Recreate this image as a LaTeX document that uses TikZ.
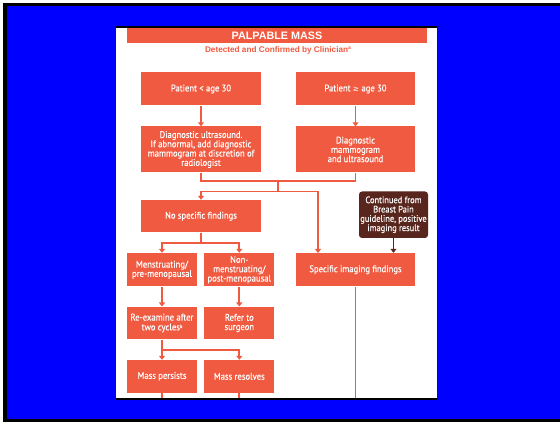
\documentclass[tikz,border=0pt]{standalone}
\usepackage{fontspec}
\usetikzlibrary{arrows.meta}
\newfontfamily\boxfont[FakeStretch=0.9,FakeBold=0.4]{PT Sans}
\newfontfamily\titlefont{Liberation Sans}
\newfontfamily\symfont{DejaVu Sans}
\definecolor{orng}{RGB}{240,90,65}
\definecolor{brwn}{RGB}{88,38,28}
\definecolor{frameblue}{RGB}{0,0,255}
\newcommand{\fnmark}[1]{{\fontsize{5}{5}\selectfont\raisebox{2.2pt}{#1}}}
\begin{document}
\begin{tikzpicture}[x=1pt,y=-1pt,
  fbox/.style={fill=orng,text=white,font={\boxfont\fontsize{9.6}{9.3}\selectfont},align=center,inner sep=0pt},
  brbox/.style={fill=brwn,text=white,font={\boxfont\fontsize{9.4}{9.3}\selectfont},align=center,inner sep=0pt,rounded corners=3pt},
  link/.style={draw=orng,line width=1.9pt},
  arr/.style={link,-{Triangle[width=6pt,length=4pt]}},
  brarr/.style={draw=brwn,line width=1.9pt,-{Triangle[width=6pt,length=4pt]}}]
\useasboundingbox (0,0) rectangle (560,422);
\fill[white] (0,0) rectangle (560,422);
\fill[black] (3,3) rectangle (562,422);
\fill[frameblue] (7,6) rectangle (562,419);
% panel
\fill[black] (116,26) rectangle (437,400);
\fill[white] (116,27.7) rectangle (437,397.5);
\begin{scope}
\clip (116,27.7) rectangle (437,397.5);
\node[fill=orng,text=white,inner sep=0pt,minimum width=300pt,minimum height=15pt,font={\titlefont\bfseries\fontsize{10.8}{12}\selectfont}] (banner) at (277,35.5) {PALPABLE MASS};
\node[text=orng,inner sep=0pt,font={\titlefont\bfseries\fontsize{8.2}{9}\selectfont}] (sub) at (278,50) {Detected and Confirmed by Clinician\fnmark{a}};
\node[fbox,minimum width=120pt,minimum height=33pt] (a) at (201,89) {Patient < age 30};
\node[fbox,minimum width=119pt,minimum height=33pt] (b) at (355.5,89) {Patient {\symfont\fontsize{7.5}{9}\selectfont ≥} age 30};
\node[fbox,minimum width=120pt,minimum height=46pt] (c) at (201,149.5) {Diagnostic ultrasound.\\If abnormal, add diagnostic\\mammogram at discretion of\\radiologist};
\node[fbox,minimum width=119pt,minimum height=46pt] (d) at (355.5,149.5) {Diagnostic\\mammogram\\and ultrasound};
\node[fbox,minimum width=120pt,minimum height=32.5pt] (e) at (201,216.25) {No specific findings};
\node[brbox,minimum width=69pt,minimum height=46.5pt] (f) at (393.5,214.75) {Continued from\\Breast Pain\\guideline, positive\\imaging result};
\node[fbox,minimum width=119pt,minimum height=33.5pt] (g) at (355.5,269.75) {Specific imaging findings};
\node[fbox,minimum width=70.5pt,minimum height=33.5pt] (h) at (162,269.75) {Menstruating/\\pre-menopausal};
\node[fbox,minimum width=70pt,minimum height=33.5pt] (i) at (239.3,269.75) {Non-\\menstruating/\\post-menopausal};
\node[fbox,minimum width=70.5pt,minimum height=32.6pt] (j) at (162,323) {Re-examine after\\[0.5pt]two cycles\fnmark{b}};
\node[fbox,minimum width=70pt,minimum height=32.6pt] (k) at (239.3,323) {Refer to\\surgeon};
\node[fbox,minimum width=70.5pt,minimum height=32.7pt] (l) at (162,376.35) {Mass persists};
\node[fbox,minimum width=70pt,minimum height=32.7pt] (m) at (239.3,376.35) {Mass resolves};
% connectors
\draw[arr] (a) -- (c);
\draw[arr] (b) -- (d);
\coordinate (j1) at (278.25,181);
\coordinate (j2) at (278.25,191.5);
\coordinate (g1) at (318,253);
\coordinate (bot) at (0,399);
\draw[link] (c.south) |- (j1) -| (d.south);
\draw[link] (j1) -- (j2);
\draw[arr] (j2) -| (e.north);
\draw[arr] (j2) -| (g1);
\draw[brarr] (f.south) -- (f.south |- g.north);
\draw[link] (e.south) -- ++(0,10) coordinate (k1);
\draw[arr] (k1) -| (h.north);
\draw[arr] (k1) -| (i.north);
\draw[arr] (h) -- (j);
\draw[arr] (i) -- (k);
\draw[link] (j.south) -- ++(0,10.5) coordinate (k2);
\draw[arr] (k2) -| (l.north);
\draw[arr] (k2) -| (m.north);
\draw[link] (l.south) -- (l.south |- bot);
\draw[link] (m.south) -- (m.south |- bot);
\draw[link] (g.south) -- (g.south |- bot);
\end{scope}
\end{tikzpicture}
\end{document}
